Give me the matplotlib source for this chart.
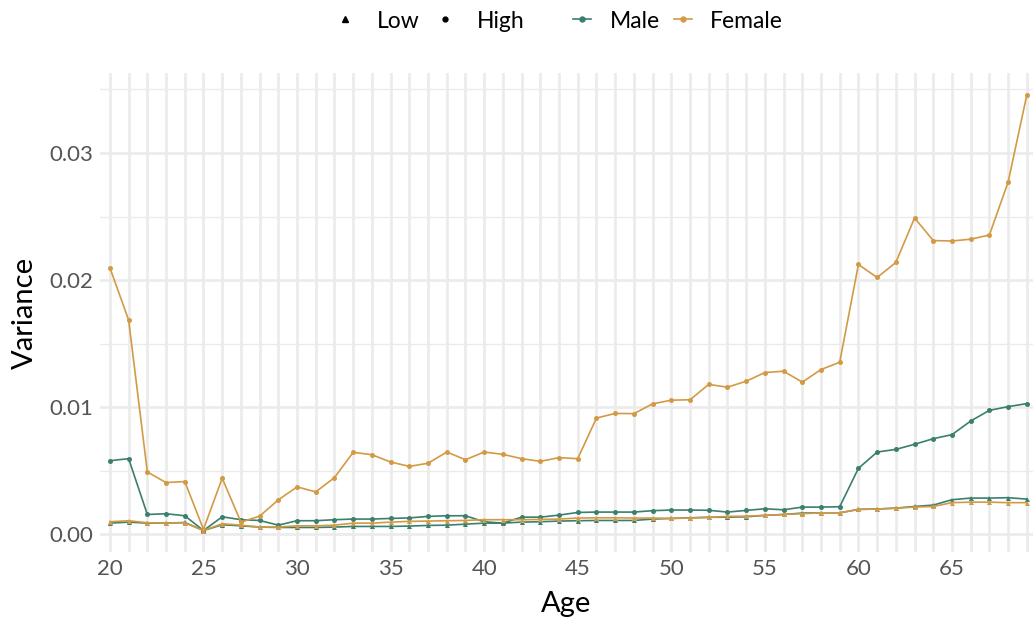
import matplotlib
matplotlib.use("Agg")
import matplotlib.pyplot as plt
from matplotlib.lines import Line2D
import numpy as np

plt.rcParams['font.family'] = ['Lato', 'DejaVu Sans']

ages = list(range(20, 70))

male_high = [0.0058, 0.00596, 0.00157, 0.00163, 0.00147, 0.00031, 0.00139, 0.00116, 0.0011, 0.00073,
             0.00108, 0.00108, 0.00116, 0.00121, 0.00121, 0.00126, 0.0013, 0.00142, 0.00147, 0.00147,
             0.001, 0.00089, 0.00136, 0.00136, 0.00152, 0.00173, 0.00176, 0.00176, 0.00176, 0.00187,
             0.00192, 0.00192, 0.0019, 0.00176, 0.00189, 0.00202, 0.00194, 0.00215, 0.00215, 0.00218,
             0.0052, 0.00648, 0.00669, 0.00709, 0.00753, 0.00785, 0.00892, 0.00976, 0.01005, 0.01029]

male_low = [0.00089, 0.00097, 0.00089, 0.00089, 0.00094, 0.00031, 0.00076, 0.00068, 0.00058, 0.00055,
            0.00055, 0.00055, 0.00058, 0.00063, 0.00063, 0.00063, 0.00066, 0.00071, 0.00073, 0.00081,
            0.00089, 0.00089, 0.00097, 0.001, 0.00105, 0.00108, 0.0011, 0.0011, 0.0011, 0.00121,
            0.00126, 0.00131, 0.00135, 0.00136, 0.00139, 0.0015, 0.00157, 0.00168, 0.0017, 0.0017,
            0.00197, 0.002, 0.00207, 0.0022, 0.00231, 0.00273, 0.00286, 0.00286, 0.00289, 0.00278]

female_high = [0.02097, 0.01686, 0.00491, 0.00408, 0.00416, 0.0004, 0.00442, 0.00097, 0.00144, 0.00272,
               0.00374, 0.00335, 0.00447, 0.00646, 0.00627, 0.0057, 0.00535, 0.0056, 0.00648, 0.00588,
               0.00648, 0.0063, 0.00596, 0.00575, 0.00604, 0.00596, 0.00915, 0.00952, 0.0095, 0.01027,
               0.01056, 0.01059, 0.01180, 0.01158, 0.01205, 0.01273, 0.01284, 0.01198, 0.01297, 0.01354,
               0.02123, 0.02021, 0.02139, 0.02489, 0.02311, 0.02308, 0.02322, 0.02355, 0.02771, 0.03456]

female_low = [0.001, 0.00108, 0.00092, 0.00089, 0.00092, 0.00031, 0.00084, 0.00073, 0.00058, 0.00058,
              0.00068, 0.00068, 0.00073, 0.00089, 0.00089, 0.00097, 0.00103, 0.00105, 0.00108, 0.0011,
              0.00116, 0.00116, 0.00116, 0.00118, 0.00121, 0.00129, 0.00131, 0.00131, 0.00129, 0.00129,
              0.00126, 0.00129, 0.00134, 0.00142, 0.00144, 0.0015, 0.00157, 0.00163, 0.0017, 0.0017,
              0.00197, 0.002, 0.00207, 0.00215, 0.0022, 0.0025, 0.00254, 0.00254, 0.0025, 0.0025]

x_ticks = [20, 25, 30, 35, 40, 45, 50, 55, 60, 65]
y_ticks = [0.00, 0.01, 0.02, 0.03]
y_labels = ["0.00", "0.01", "0.02", "0.03"]

GREEN = '#3b7f6e'
ORANGE = '#d39a45'
GRID = '#ebebeb'

fig = plt.figure(figsize=(10.33, 6.25), dpi=100)
ax = fig.add_axes([100/1033, (625-552)/625, (1033-100)/1033, (552-73)/625])

ax.set_xlim(19.47, 69.33)
ax.set_ylim(-0.00138, 0.03629)

# grid
for a in ages:
    ax.axvline(a, color=GRID, lw=1.9, zorder=0)
for v in [0.0, 0.01, 0.02, 0.03]:
    ax.axhline(v, color=GRID, lw=1.9, zorder=0)
for v in [0.005, 0.015, 0.025, 0.035]:
    ax.axhline(v, color=GRID, lw=1.0, zorder=0)

series = [
    (male_high, GREEN, 'o'),
    (male_low, GREEN, '^'),
    (female_high, ORANGE, 'o'),
    (female_low, ORANGE, '^'),
]
for vals, col, mk in series:
    ax.plot(ages, vals, color=col, lw=1.2, marker=mk, markersize=3.6,
            markeredgewidth=0, zorder=3)

for s in ax.spines.values():
    s.set_visible(False)
ax.set_xticks(x_ticks)
ax.set_xticklabels([str(t) for t in x_ticks])
ax.set_yticks(y_ticks)
ax.set_yticklabels(y_labels)
ax.tick_params(axis='both', length=0, labelsize=16, labelcolor='#555555', pad=5)
ax.set_xlabel('Age', fontsize=21, color='black', labelpad=9)
ax.set_ylabel('Variance', fontsize=21, color='black', labelpad=8)

# legends
shape_handles = [Line2D([], [], ls='none', marker='^', color='black', markersize=4.5),
                 Line2D([], [], ls='none', marker='o', color='black', markersize=3.5)]
leg1 = fig.legend(shape_handles, ['Low', 'High'], loc='center',
                  bbox_to_anchor=(428/1033, 1 - 21/625), ncol=2, frameon=False,
                  fontsize=16.5, handlelength=1.2, handletextpad=0.8, columnspacing=0.5)
color_handles = [Line2D([], [], color=GREEN, lw=1.2, marker='o', markersize=3.6),
                 Line2D([], [], color=ORANGE, lw=1.2, marker='o', markersize=3.6)]
leg2 = fig.legend(color_handles, ['Male', 'Female'], loc='center',
                  bbox_to_anchor=(678/1033, 1 - 21/625), ncol=2, frameon=False,
                  fontsize=16.5, handlelength=0.8, handletextpad=0.8, columnspacing=0.6)

fig.savefig('out.png', dpi=100)
